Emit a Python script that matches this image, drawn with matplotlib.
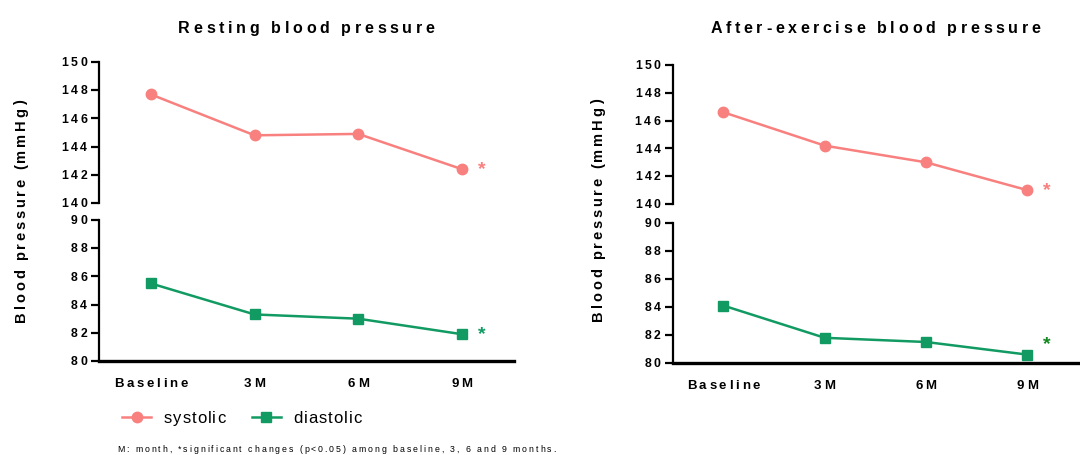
import matplotlib.pyplot as plt
import numpy as np

plt.rcParams['font.family'] = ['Liberation Sans', 'DejaVu Sans']

timepoints = ["Baseline", "3M", "6M", "9M"]

rest_systolic = [147.7, 144.8, 144.9, 142.4]
rest_diastolic = [85.5, 83.3, 83.0, 81.9]
ex_systolic = [146.6, 144.2, 143.0, 141.0]
ex_diastolic = [84.1, 81.8, 81.5, 80.6]

sys_ticks = [140, 142, 144, 146, 148, 150]
dia_ticks = [80, 82, 84, 86, 88, 90]

titles = ["Resting blood pressure", "After-exercise blood pressure"]
ylabel = "Blood pressure (mmHg)"
legend_labels = ["systolic", "diastolic"]
footnote = "M: month, *significant changes (p<0.05) among baseline, 3, 6 and 9 months."

sys_color = "#F8807E"
dia_color = "#129A63"
star_colors = [(sys_color, dia_color), (sys_color, "#12891F")]
star_offsets = [(0.0, 0.0), (0.0, 0.7)]

W, H, DPI = 1080, 455, 100
fig = plt.figure(figsize=(W / DPI, H / DPI), dpi=DPI)
renderer = fig.canvas.get_renderer()


def spaced_text(x, y, s, track, ha="center", rotation=0, **kw):
    """Letter-spaced text, x/y in pixels, y is the baseline."""
    size_px = kw.get("fontsize", 10) * DPI / 72
    widths = []
    for ch in s:
        if ch == " ":
            widths.append(0.278 * size_px)
        else:
            t = fig.text(0, 0, ch, **kw)
            widths.append(t.get_window_extent(renderer).width)
            t.remove()
    total = sum(widths) + track * (len(s) - 1)
    pos = {"left": 0, "center": -total / 2, "right": -total}[ha]
    for ch, w in zip(s, widths):
        if ch != " ":
            if rotation == 90:
                fig.text(x / W, (y + pos) / H, ch, ha="left", va="baseline",
                         rotation=90, rotation_mode="anchor", **kw)
            else:
                fig.text((x + pos) / W, y / H, ch, ha="left", va="baseline", **kw)
        pos += w + track


# [left, bottom, width, height] for top / bottom halves of each broken axis
panels = [
    ((0.0917, 0.5538, 0.384, 0.31), (0.0917, 0.2066, 0.384, 0.31)),
    ((0.623, 0.5516, 0.375, 0.3055), (0.623, 0.2022, 0.375, 0.3077)),
]
ylabel_pos = [(25, 244), (602, 245)]
data = [(rest_systolic, rest_diastolic), (ex_systolic, ex_diastolic)]
x = np.arange(len(timepoints))


def style_axis(ax, bottom):
    for s in ["top", "right"]:
        ax.spines[s].set_visible(False)
    ax.spines["left"].set_linewidth(1.6)
    ax.spines["bottom"].set_linewidth(2.4)
    ax.spines["bottom"].set_visible(bottom)
    ax.tick_params(axis="y", length=6, width=1.6, labelleft=False)
    ax.set_xlim(-0.5, 3.5)


def tick_labels(ax, ticks):
    for v in ticks:
        px, py = ax.transData.transform((-0.5, v))
        spaced_text(px - 12, py - 4.2, str(v), 2.7, ha="right", fontsize=8.8, fontweight="bold")


handles = None
for i, ((top_pos, bot_pos), (sysv, diav)) in enumerate(zip(panels, data)):
    ax_top = fig.add_axes(top_pos)
    ax_bot = fig.add_axes(bot_pos)

    h1, = ax_top.plot(x, sysv, color=sys_color, marker="o", markersize=7.5, linewidth=1.8)
    h2, = ax_bot.plot(x, diav, color=dia_color, marker="s", markersize=7.5, linewidth=1.8)
    if handles is None:
        handles = [h1, h2]

    ax_top.set_ylim(140, 150)
    ax_top.set_yticks(sys_ticks)
    ax_bot.set_ylim(80, 90)
    ax_bot.set_yticks(dia_ticks)

    style_axis(ax_top, False)
    style_axis(ax_bot, True)
    ax_top.set_xticks([])
    ax_bot.set_xticks(x)
    ax_bot.tick_params(axis="x", length=0, labelbottom=False)

    tick_labels(ax_top, sys_ticks)
    tick_labels(ax_bot, dia_ticks)
    for xi, lab in zip(x, timepoints):
        px, py = ax_bot.transData.transform((xi, 80))
        spaced_text(px, py - 26, lab, 2.7, ha="center", fontsize=9.5, fontweight="bold")

    sc, dc = star_colors[i]
    so, do = star_offsets[i]
    ax_top.text(3.19, sysv[-1] + so, "*", color=sc, fontsize=14, fontweight="bold",
                ha="center", va="center")
    ax_bot.text(3.19, diav[-1] + do, "*", color=dc, fontsize=14, fontweight="bold",
                ha="center", va="center")

    cx = (top_pos[0] + top_pos[2] / 2) * W
    spaced_text(cx, 422, titles[i], 3.7, ha="center", fontsize=11.5, fontweight="bold")
    lx, ly = ylabel_pos[i]
    spaced_text(lx, ly, ylabel, 2.7, ha="center", rotation=90, fontsize=10.5, fontweight="bold")

leg = fig.legend(handles=handles, labels=legend_labels, loc="center left",
                 bbox_to_anchor=(0.099, 0.081), ncol=2, frameon=False, fontsize=12,
                 handlelength=1.75, columnspacing=2.0, handletextpad=0.75)
fig.canvas.draw()
for t in leg.get_texts():
    bb = t.get_window_extent(renderer)
    t.set_visible(False)
    spaced_text(bb.x0, 32, t.get_text(), 1.0, ha="left", fontsize=12)

spaced_text(117, 3.5, footnote, 1.95, ha="left", fontsize=6.3)

fig.savefig("out.png", dpi=DPI)
